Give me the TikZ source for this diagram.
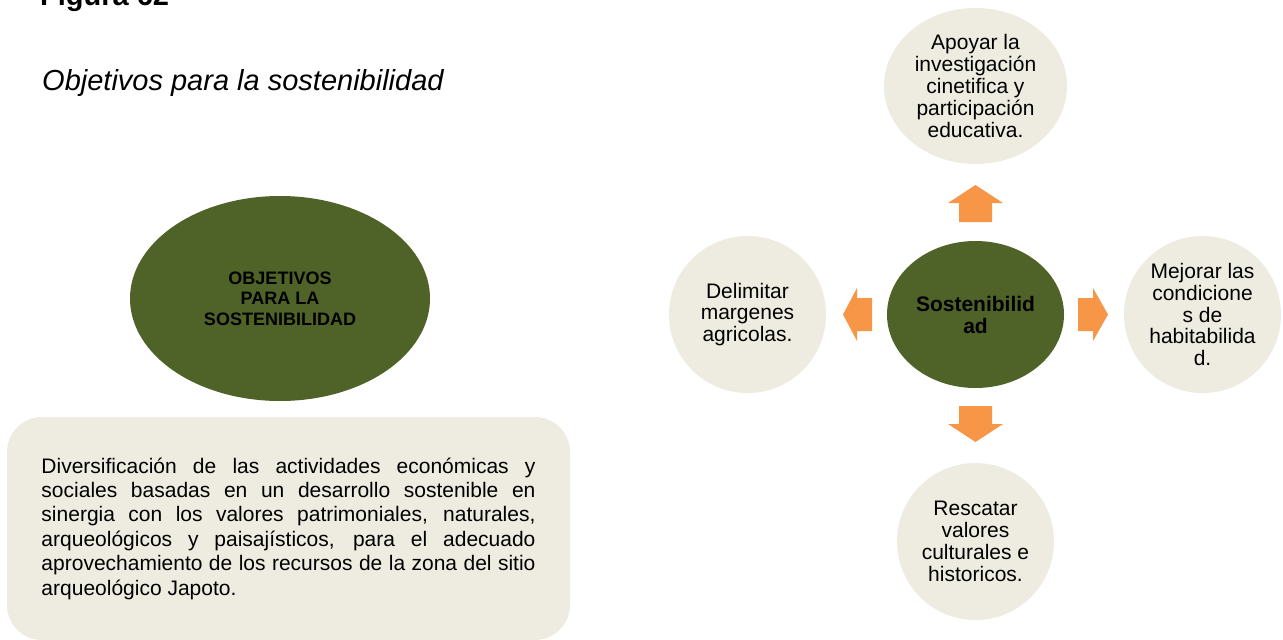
\documentclass[tikz,border=0pt]{standalone}
\usepackage{fontspec}
\setmainfont{Liberation Sans}
\usepackage{tikz}
\usetikzlibrary{shapes.geometric}
\definecolor{VerdeOliva}{RGB}{79,98,40}
\definecolor{BeigeFondo}{RGB}{238,236,225}
\definecolor{NaranjaFlecha}{RGB}{247,150,70}
\tikzset{
  burbuja/.style={ellipse,fill=BeigeFondo,inner sep=0pt,align=center,
    minimum width=157pt,minimum height=157pt,
    font=\fontsize{21}{21.8}\selectfont},
  nucleo/.style={ellipse,fill=VerdeOliva,inner sep=0pt,align=center,
    font=\bfseries\fontsize{21}{22}\selectfont},
  flecha/.style={fill=NaranjaFlecha}
}
\tolerance=9999
\hbadness=10000

\begin{document}
\begin{tikzpicture}[x=1pt,y=-1pt]
  \useasboundingbox (0,0) rectangle (1283,640);
  \fill[white] (0,0) rectangle (1283,640);
  % titulos
  \node[anchor=base west,inner sep=0pt,font=\bfseries\fontsize{29}{33}\selectfont] (figura) at (40,5) {Figura 62};
  \node[anchor=base west,inner sep=0pt,font=\itshape\fontsize{29}{33}\selectfont] (titulo) at (42,90) {Objetivos para la sostenibilidad};
  % lado izquierdo
  \node[nucleo,minimum width=300pt,minimum height=205pt,
    font=\bfseries\fontsize{18}{20.6}\selectfont] (objetivos) at (280,298.5) {OBJETIVOS\\PARA LA\\SOSTENIBILIDAD};
  \node[rectangle,rounded corners=35pt,fill=BeigeFondo,inner sep=0pt,
    minimum width=563pt,minimum height=223pt,text width=494pt,align=justify,
    font=\fontsize{21}{24.4}\selectfont] (descripcion) at (288.5,528.5)
    {Diversificación de las actividades económicas y\linebreak
     sociales basadas en un desarrollo sostenible en\linebreak
     sinergia con los valores patrimoniales, naturales,\linebreak
     arqueológicos y paisajísticos, para el adecuado\linebreak
     aprovechamiento de los recursos de la zona del sitio\linebreak
     arqueológico Japoto.};
  % lado derecho
  \node[nucleo,minimum width=177pt,minimum height=147pt] (sost) at (975.5,314.5) {Sostenibilid\\ad};
  \node[burbuja,minimum width=183pt,minimum height=156pt] (apoyar) at (975.5,86)
    {Apoyar la\\investigación\\cinetifica y\\participación\\educativa.};
  \node[burbuja] (delimitar) at (747.5,314.5) {Delimitar\\margenes\\agricolas.};
  \node[burbuja] (mejorar) at (1202.5,314.5) {Mejorar las\\condicione\\s de\\habitabilida\\d.};
  \node[burbuja] (rescatar) at (975.5,541.5) {Rescatar\\valores\\culturales e\\historicos.};
  % flechas
  \fill[flecha] (959,222) -- (959,203) -- (948,203) -- (975.5,185) -- (1003,203) -- (992,203) -- (992,222) -- cycle;
  \fill[flecha] (959,406) -- (959,424) -- (948,424) -- (975.5,442) -- (1003,424) -- (992,424) -- (992,406) -- cycle;
  \fill[flecha] (872,298) -- (857,298) -- (857,288) -- (843,314.5) -- (857,341) -- (857,331) -- (872,331) -- cycle;
  \fill[flecha] (1078,298) -- (1093,298) -- (1093,288) -- (1108,314.5) -- (1093,341) -- (1093,331) -- (1078,331) -- cycle;
\end{tikzpicture}
\end{document}
